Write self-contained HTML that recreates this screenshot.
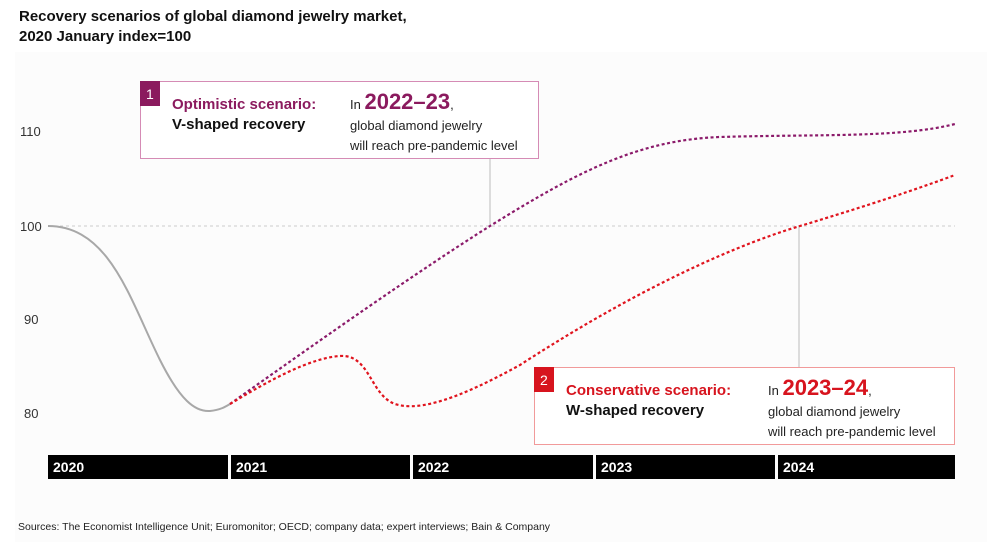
<!DOCTYPE html>
<html><head><meta charset="utf-8"><style>
html,body{margin:0;padding:0;background:#fff;}
svg{display:block;font-family:"Liberation Sans",Arial,sans-serif;}
</style></head><body>
<svg width="1002" height="553" viewBox="0 0 1002 553" xmlns="http://www.w3.org/2000/svg">
<rect x="15" y="52" width="972" height="490" fill="#fcfcfc"/>
<text x="19" y="21" font-size="15" font-weight="bold" fill="#111">Recovery scenarios of global diamond jewelry market,</text>
<text x="19" y="41" font-size="15" font-weight="bold" fill="#111">2020 January index=100</text>
<g font-size="13" fill="#333">
<text x="20" y="136">110</text><text x="20" y="231">100</text><text x="24" y="324">90</text><text x="24" y="418">80</text>
</g>
<line x1="48" y1="226" x2="955" y2="226" stroke="#ccc" stroke-dasharray="3,3"/>
<line x1="490" y1="159" x2="490" y2="226" stroke="#bbb"/>
<line x1="799" y1="226" x2="799" y2="367" stroke="#bbb"/>
<path d="M48,226 C110,226 130,300 160,360 C180,400 195,412 210,411 C220,410 225,407 230,404" fill="none" stroke="#a8a8a8" stroke-width="2"/>
<path d="M230,404 C320,340 420,270 490,226 C580,170 640,140 720,137 C820,134 900,138 955,124" fill="none" stroke="#8b1a6a" stroke-width="2.2" stroke-dasharray="3,2.5"/>
<path d="M230,404 C270,380 310,358 340,356 C370,354 370,395 395,404 C420,412 460,398 520,365 C620,300 720,250 800,226 C870,205 920,188 955,175" fill="none" stroke="#e0141e" stroke-width="2.2" stroke-dasharray="3,2.5"/>
<rect x="140.5" y="81.5" width="398" height="77" fill="#fff" stroke="#d58bb5"/>
<rect x="140" y="81" width="20" height="25" fill="#8b1a5e"/>
<text x="146" y="99" font-size="14" fill="#fff">1</text>
<text x="172" y="109" font-size="15" font-weight="bold" fill="#8b1a5e">Optimistic scenario:</text>
<text x="172" y="129" font-size="15" font-weight="bold" fill="#111">V-shaped recovery</text>
<text x="350" y="109" font-size="13" fill="#222">In <tspan font-size="22" font-weight="bold" fill="#8b1a5e">2022–23</tspan>,</text>
<text x="350" y="130" font-size="13" fill="#222">global diamond jewelry</text>
<text x="350" y="150" font-size="13" fill="#222">will reach pre-pandemic level</text>
<rect x="534.5" y="367.5" width="420" height="77" fill="#fff" stroke="#f19a9a"/>
<rect x="534" y="367" width="20" height="25" fill="#d7141e"/>
<text x="540" y="385" font-size="14" fill="#fff">2</text>
<text x="566" y="395" font-size="15" font-weight="bold" fill="#d7141e">Conservative scenario:</text>
<text x="566" y="415" font-size="15" font-weight="bold" fill="#111">W-shaped recovery</text>
<text x="768" y="395" font-size="13" fill="#222">In <tspan font-size="22" font-weight="bold" fill="#d7141e">2023–24</tspan>,</text>
<text x="768" y="416" font-size="13" fill="#222">global diamond jewelry</text>
<text x="768" y="436" font-size="13" fill="#222">will reach pre-pandemic level</text>
<g fill="#000">
<rect x="48" y="455" width="180" height="24"/><rect x="231" y="455" width="179" height="24"/>
<rect x="413" y="455" width="180" height="24"/><rect x="596" y="455" width="179" height="24"/>
<rect x="778" y="455" width="177" height="24"/>
</g>
<g font-size="14" font-weight="bold" fill="#fff">
<text x="53" y="472">2020</text><text x="236" y="472">2021</text><text x="418" y="472">2022</text><text x="601" y="472">2023</text><text x="783" y="472">2024</text>
</g>
<text x="18" y="530" font-size="10.5" fill="#222">Sources: The Economist Intelligence Unit; Euromonitor; OECD; company data; expert interviews; Bain &amp; Company</text>
</svg>
</body></html>
